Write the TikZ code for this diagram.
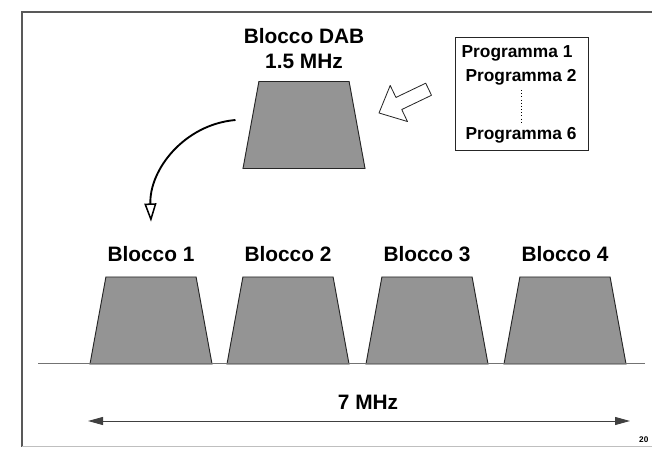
\documentclass[tikz,border=0pt]{standalone}
\usepackage{fontspec}
\setmainfont{Liberation Sans}
\usetikzlibrary{positioning, arrows.meta, calc, shapes.geometric}

\begin{document}
\begin{tikzpicture}[
  x=0.03cm, y=0.03cm,
  blocco/.style={trapezium, trapezium left angle=80, trapezium right angle=80,
    trapezium stretches=true, minimum width=3.66cm, minimum height=2.61cm,
    inner sep=1pt, fill=black!42, draw=black!85, line width=0.8pt},
  bigtxt/.style={font=\fontsize{17.8}{21.3}\selectfont\bfseries, inner sep=0pt},
  progtxt/.style={font=\fontsize{14.8}{17}\selectfont\bfseries, inner sep=0pt},
  cornice/.style={draw=black!65, line width=0.9pt},
  curva/.style={draw=black, line width=1.6pt,
    -{Triangle[open, length=0.55cm, width=0.36cm, line width=1.3pt]}},
  banda/.style={draw=black!75, line width=0.8pt,
    {Triangle[length=0.45cm, width=0.24cm]}-{Triangle[length=0.45cm, width=0.24cm]}},
  freccia/.style={draw=black!85, line width=0.7pt, fill=white, line join=round}
]
\useasboundingbox (0,0) rectangle (652,448);

% cornice
\draw[cornice] (652,436) -- (22,436) -- (22,1);
\draw[cornice, draw=black!25] (22,1.5) -- (652,1.5);

% blocco DAB
\node[blocco] (dab) at (304,323) {};
\node[bigtxt, align=center, above=0.35cm of dab] (dabtxt) {Blocco DAB\\1.5 MHz};

% programmi
\node[draw=black!85, line width=0.8pt, minimum width=3.99cm, minimum height=3.39cm,
  inner sep=0pt] (progbox) at (521.5,354.5) {};
\node[progtxt] (p1) at (517,395) {Programma 1};
\node[progtxt] (p2) at (521,371) {Programma 2};
\node[progtxt] (p6) at (521,313) {Programma 6};
\draw[dotted, line width=0.7pt, shorten <=0.15cm, shorten >=0.15cm] (p2.south) -- (p6.north);

\draw[freccia, shift={(379,335)}, rotate=205.6]
  (0,0) -- (-22,20) -- (-22,6.7) -- (-55,6.7) -- (-55,-6.7) -- (-22,-6.7) -- (-22,-20) -- cycle;

% blocchi nel canale
\node[blocco] (b1) at (151,127.5) {};
\node[blocco] (b2) at (288,127.5) {};
\node[blocco] (b3) at (427,127.5) {};
\node[blocco] (b4) at (565,127.5) {};

\node[bigtxt, above=0.43cm of b1] (lab1) {Blocco 1};
\node[bigtxt, above=0.43cm of b2] (lab2) {Blocco 2};
\node[bigtxt, above=0.43cm of b3] (lab3) {Blocco 3};
\node[bigtxt, above=0.43cm of b4] (lab4) {Blocco 4};

\coordinate (assesx) at (38,84.5);
\coordinate (assedx) at (645,84.5);
\draw[draw=black!55, line width=0.9pt] (assesx) -- (assedx);

\draw[curva] ([xshift=-0.45cm, yshift=0.15cm]dab.west) to[out=185, in=92]
  ([yshift=0.74cm]lab1.north);

% larghezza canale
\coordinate (bandasx) at (88,27);
\coordinate (bandadx) at (630,27);
\draw[banda] (bandasx) -- (bandadx);
\node[bigtxt] (mhz) at (368,46) {7 MHz};

\node[font=\fontsize{7}{8}\selectfont\bfseries, anchor=west, inner sep=0pt] (pag) at (639,8) {20};

\end{tikzpicture}
\end{document}
